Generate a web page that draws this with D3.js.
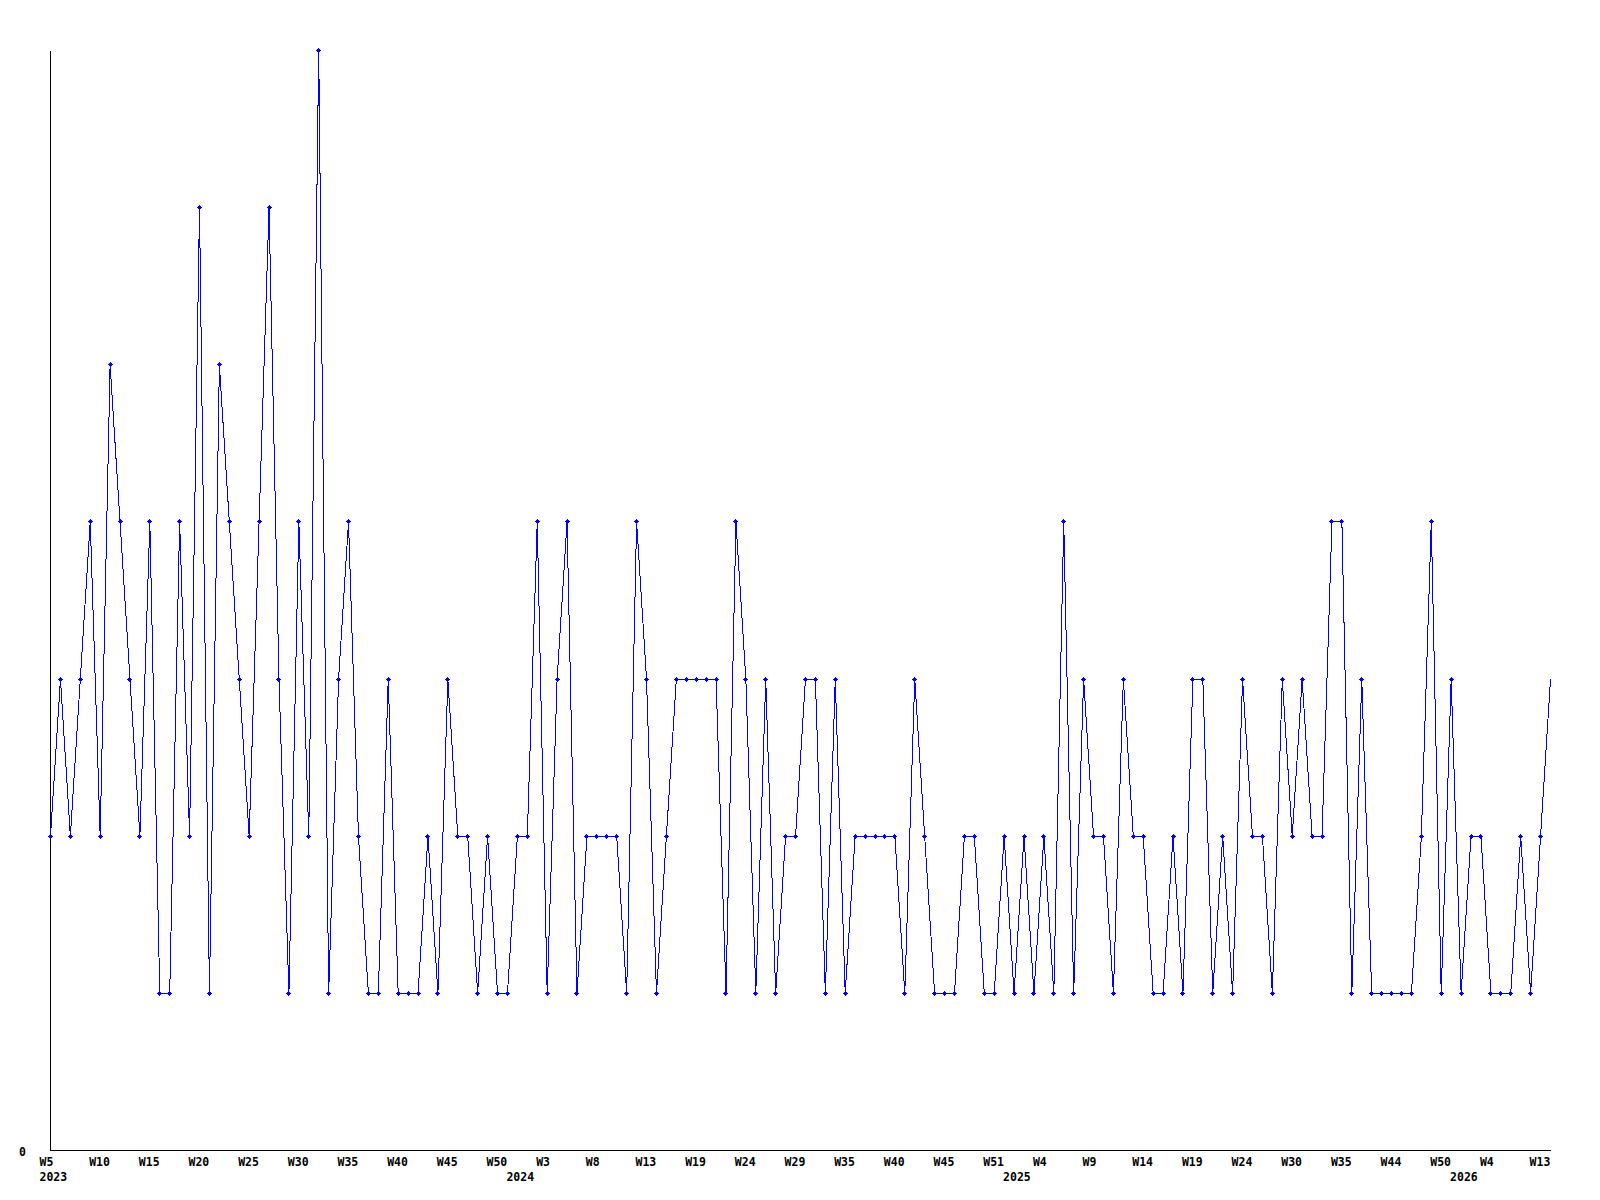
<!DOCTYPE html>
<html>
<head lang="en">
    <meta charset="UTF-8">
    <title>weekly</title>
    <script type="text/javascript" src="https://d3js.org/d3.v7.min.js"></script>
    <style type="text/css">
        body { margin: 0; background: #fff; }
        .axis path, .axis line { stroke: #000; shape-rendering: crispEdges; }
        .lbl {
            font-family: "DejaVu Sans Mono", "Liberation Mono", monospace;
            font-weight: bold;
            font-size: 11.5px;
            fill: #000;
        }
        .series {
            fill: none;
            stroke: #0000ff;
            stroke-width: 1;
            shape-rendering: crispEdges;
        }
        .dot { fill: #0000ff; shape-rendering: crispEdges; }
    </style>
</head>
<body>
<script type="text/javascript">
    // one value per week (weeks without data are skipped)
    var values = [2,3,2,3,4,2,5,4,3,2, 4,1,1,4,2,6,1,5,4,3,
                  2,4,6,3,1,4,2,7,1,3, 4,2,1,1,3,1,1,1,2,1,
                  3,2,2,1,2,1,1,2,2,4, 1,3,4,1,2,2,2,2,1,4,
                  3,1,2,3,3,3,3,3,1,4, 3,1,3,1,2,2,3,3,1,3,
                  1,2,2,2,2,2,1,3,2,1, 1,1,2,2,1,1,2,1,2,1,
                  2,1,4,1,3,2,2,1,3,2, 2,1,1,2,1,3,3,1,2,1,
                  3,2,2,1,3,2,3,2,2,4, 4,1,3,1,1,1,1,1,2,4,
                  1,3,1,2,2,1,1,1,2,1, 2,3];

    // label on every 5th point
    var weekLabels = ["W5","W10","W15","W20","W25","W30","W35","W40","W45","W50",
                      "W3","W8","W13","W19","W24","W29","W35","W40","W45","W51",
                      "W4","W9","W14","W19","W24","W30","W35","W44","W50","W4","W13"];

    var years = ["2023","2024","2025","2026"];
    var yearStart = [0, 47, 97, 142];   // index of first point of the year

    var yMax = 7;

    var W = 1600, H = 1200;
    var svg = d3.select("body").append("svg")
        .attr("width", W).attr("height", H);

    var x = d3.scaleLinear().domain([0, values.length - 1]).range([50.5, 1550.5]);
    var y = d3.scaleLinear().domain([0, yMax]).range([1150.5, 50.5]);

    // axes
    svg.append("g").attr("class", "axis")
        .attr("transform", "translate(0,1150)")
        .call(d3.axisBottom(x).tickValues([]).tickSizeOuter(0));
    svg.append("g").attr("class", "axis")
        .attr("transform", "translate(50,0)")
        .call(d3.axisLeft(y).tickValues([]).tickSizeOuter(0));
    svg.selectAll(".axis .domain").attr("stroke-width", 1);

    // y label
    svg.append("text").attr("class", "lbl")
        .attr("x", 19).attr("y", y(0) + 5)
        .text("0");

    // week labels
    svg.selectAll("text.wk").data(weekLabels).enter().append("text")
        .attr("class", "lbl wk")
        .attr("x", function(d, i) { return x(i * 5) - 11; })
        .attr("y", 1166)
        .text(function(d) { return d; });

    // year labels
    svg.selectAll("text.yr").data(years).enter().append("text")
        .attr("class", "lbl yr")
        .attr("x", function(d, i) { return x(yearStart[i]) - 11; })
        .attr("y", 1181)
        .text(function(d) { return d; });

    // series
    var line = d3.line()
        .x(function(d, i) { return x(i); })
        .y(function(d) { return y(d); });

    svg.append("path").datum(values)
        .attr("class", "series")
        .attr("d", line);

    // small plus with a filled centre
    var marker = "M-2.5,-0.5h5v1h-5z M-0.5,-2.5h1v5h-1z M-1.5,-1.5h3v3h-3z";
    svg.selectAll("path.dot").data(values.slice(0, values.length - 1)).enter().append("path")
        .attr("class", "dot")
        .attr("transform", function(d, i) { return "translate(" + x(i) + "," + y(d) + ")"; })
        .attr("d", marker);
</script>
</body>
</html>
